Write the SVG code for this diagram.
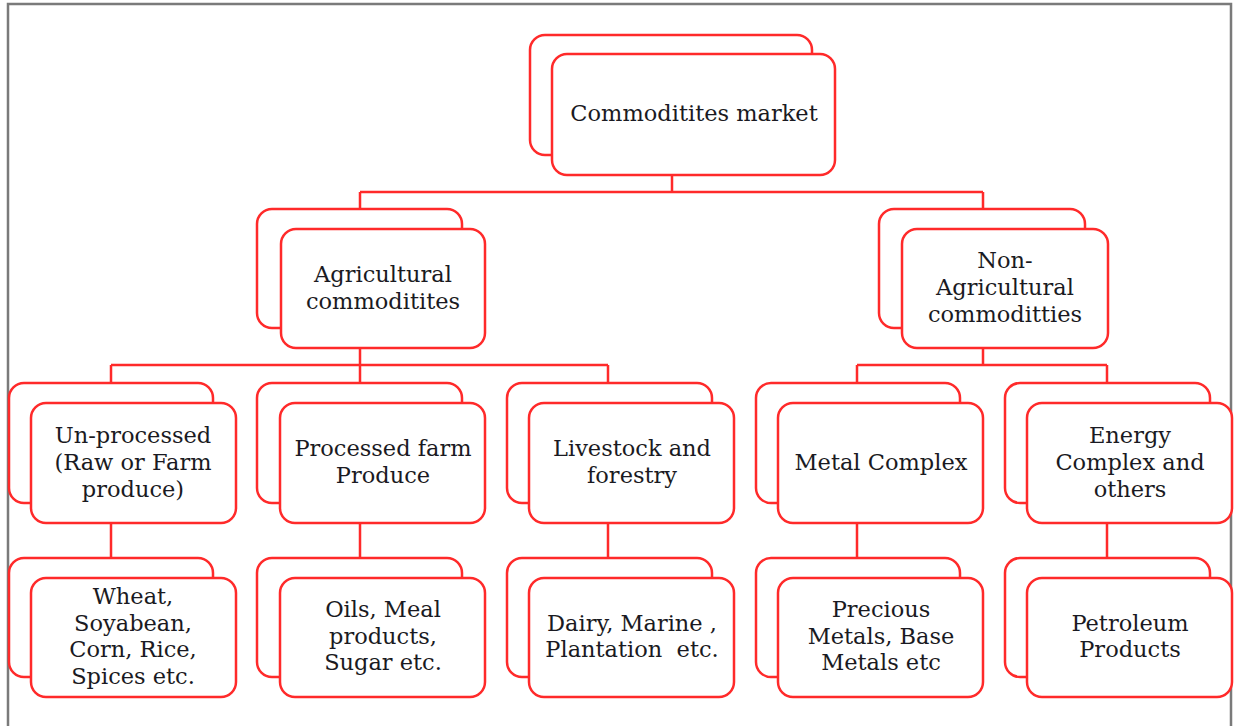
<svg xmlns="http://www.w3.org/2000/svg" width="1238" height="728" viewBox="0 0 1238 728">
<style>
.b{fill:#fff;stroke:#ff2a2a;stroke-width:2.5}
.c{fill:none;stroke:#ff2a2a;stroke-width:2.5}
text{font-family:"DejaVu Serif","Liberation Serif",serif;font-size:22.5px;fill:#1a1a22;text-anchor:middle;white-space:pre}
</style>
<rect x="0" y="0" width="1238" height="728" fill="#fff"/>
<path d="M8,726 V4 H1231 V726" fill="none" stroke="#7a7a7a" stroke-width="2.5"/>
<g id="connectors" class="c">
<path d="M672,175 V192 M360,192 H983 M360,192 V209 M983,192 V209"/>
<path d="M360,348 V365 M111,365 H608 M111,365 V383 M360,365 V383 M608,365 V383"/>
<path d="M983,348 V365 M857,365 H1107 M857,365 V383 M1107,365 V383"/>
<path d="M111,523 V558 M360,523 V558 M608,523 V558 M857,523 V558 M1107,523 V558"/>
</g>
<g id="n-root"><rect class="b" x="530" y="35" width="282" height="120" rx="15"/><rect class="b" x="552" y="54" width="283" height="121" rx="15"/><text x="694" y="121">Commoditites market</text></g>
<g id="n-agri"><rect class="b" x="257" y="209" width="205" height="119" rx="15"/><rect class="b" x="281" y="229" width="204" height="119" rx="15"/><text x="383" y="282">Agricultural</text><text x="383" y="309">commoditites</text></g>
<g id="n-nonagri"><rect class="b" x="879" y="209" width="206" height="119" rx="15"/><rect class="b" x="902" y="229" width="206" height="119" rx="15"/><text x="1005" y="268">Non-</text><text x="1005" y="295">Agricultural</text><text x="1005" y="322">commoditties</text></g>
<g id="n-unproc"><rect class="b" x="9" y="383" width="204" height="120" rx="15"/><rect class="b" x="31" y="403" width="205" height="120" rx="15"/><text x="133" y="443">Un-processed</text><text x="133" y="470">(Raw or Farm</text><text x="133" y="497">produce)</text></g>
<g id="n-proc"><rect class="b" x="257" y="383" width="205" height="120" rx="15"/><rect class="b" x="280" y="403" width="205" height="120" rx="15"/><text x="383" y="456">Processed farm</text><text x="383" y="483">Produce</text></g>
<g id="n-live"><rect class="b" x="507" y="383" width="205" height="120" rx="15"/><rect class="b" x="529" y="403" width="205" height="120" rx="15"/><text x="632" y="456">Livestock and</text><text x="632" y="483">forestry</text></g>
<g id="n-metal"><rect class="b" x="756" y="383" width="204" height="120" rx="15"/><rect class="b" x="778" y="403" width="205" height="120" rx="15"/><text x="881" y="470">Metal Complex</text></g>
<g id="n-energy"><rect class="b" x="1005" y="383" width="205" height="120" rx="15"/><rect class="b" x="1027" y="403" width="205" height="120" rx="15"/><text x="1130" y="443">Energy</text><text x="1130" y="470">Complex and</text><text x="1130" y="497">others</text></g>
<g id="n-wheat"><rect class="b" x="9" y="558" width="204" height="119" rx="15"/><rect class="b" x="31" y="578" width="205" height="119" rx="15"/><text x="133" y="604">Wheat,</text><text x="133" y="631">Soyabean,</text><text x="133" y="657">Corn, Rice,</text><text x="133" y="684">Spices etc.</text></g>
<g id="n-oils"><rect class="b" x="257" y="558" width="205" height="119" rx="15"/><rect class="b" x="280" y="578" width="205" height="119" rx="15"/><text x="383" y="617">Oils, Meal</text><text x="383" y="644">products,</text><text x="383" y="670">Sugar etc.</text></g>
<g id="n-dairy"><rect class="b" x="507" y="558" width="205" height="119" rx="15"/><rect class="b" x="529" y="578" width="205" height="119" rx="15"/><text x="632" y="631">Dairy, Marine ,</text><text x="632" y="657">Plantation  etc.</text></g>
<g id="n-precious"><rect class="b" x="756" y="558" width="204" height="119" rx="15"/><rect class="b" x="778" y="578" width="205" height="119" rx="15"/><text x="881" y="617">Precious</text><text x="881" y="644">Metals, Base</text><text x="881" y="670">Metals etc</text></g>
<g id="n-petro"><rect class="b" x="1005" y="558" width="205" height="119" rx="15"/><rect class="b" x="1027" y="578" width="205" height="119" rx="15"/><text x="1130" y="631">Petroleum</text><text x="1130" y="657">Products</text></g>
</svg>
